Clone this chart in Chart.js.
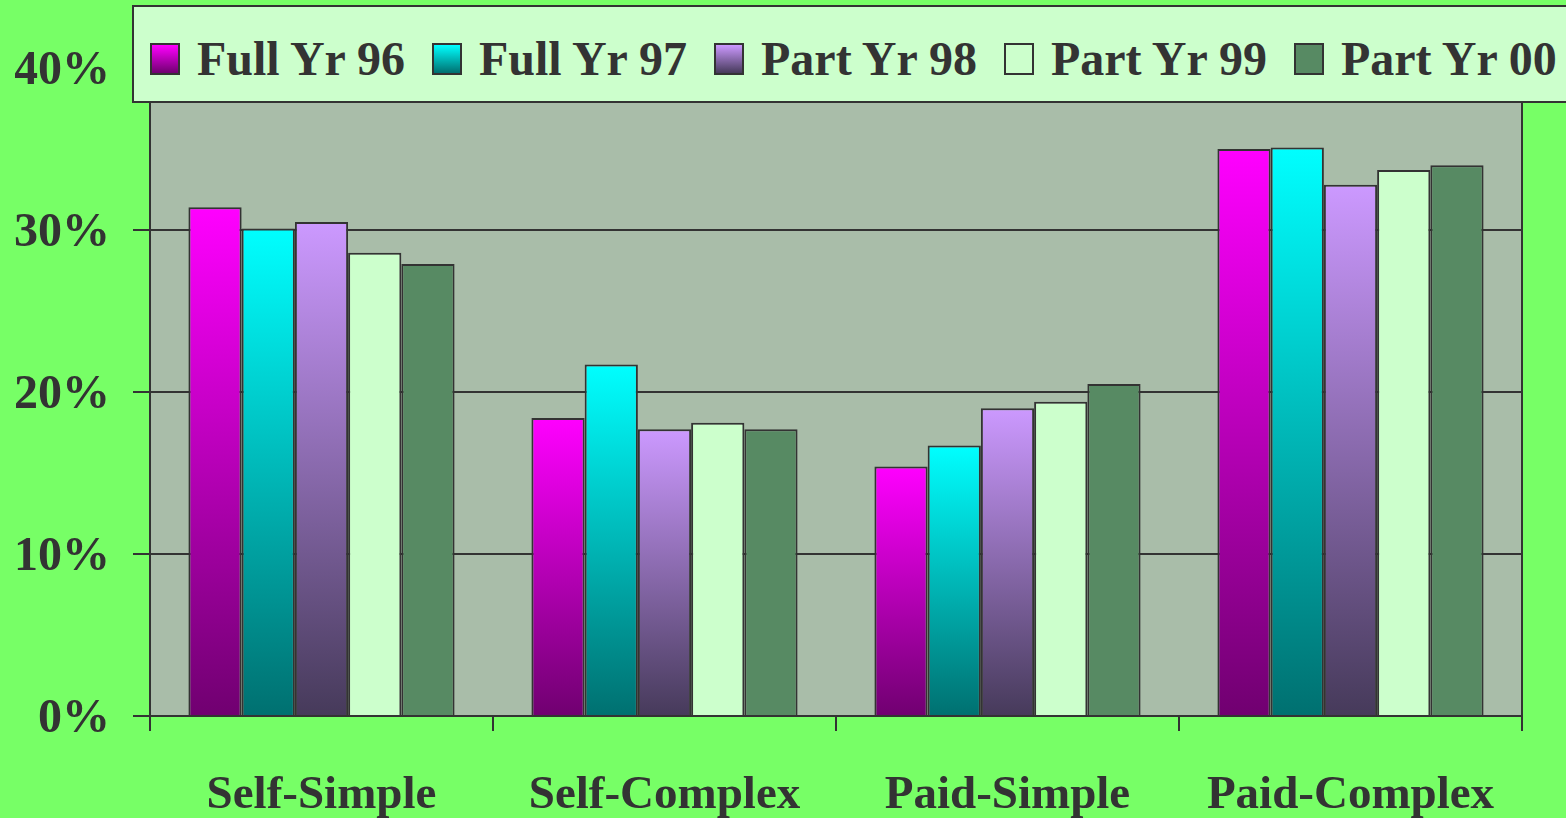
<!DOCTYPE html>
<html>
<head>
<meta charset="utf-8">
<script src="https://cdn.jsdelivr.net/npm/chart.js@4.4.1/dist/chart.umd.min.js"></script>
<style>
  html, body { margin: 0; padding: 0; background: #77FF66; overflow: hidden; }
  #wrap { position: relative; width: 1566px; height: 818px; overflow: hidden; }
  #legend {
    position: absolute; left: 132px; top: 5px; width: 1480px; height: 94px;
    background: #CCFFCC; border: 2px solid #333; border-right: none;
    display: flex; align-items: center; padding-left: 16px;
  }
  .item { display: flex; align-items: center; margin-right: 27px; position: relative; top: 4px;
    font: bold 48px "Liberation Serif", "Times New Roman", serif; color: #333; white-space: nowrap; }
  .swatch { width: 26px; height: 28px; border: 2px solid #333; margin-right: 17px; margin-top: 2px; }
</style>
</head>
<body>
<div id="wrap">
  <canvas id="chart" width="1566" height="818"></canvas>
  <div id="legend"></div>
</div>
<script>
'use strict';

const categories = ['Self-Simple', 'Self-Complex', 'Paid-Simple', 'Paid-Complex'];
const seriesNames = ['Full Yr 96', 'Full Yr 97', 'Part Yr 98', 'Part Yr 99', 'Part Yr 00'];
const fullYr96 = [31.4, 18.4, 15.4, 35.0];
const fullYr97 = [30.1, 21.7, 16.7, 35.1];
const partYr98 = [30.5, 17.7, 19.0, 32.8];
const partYr99 = [28.6, 18.1, 19.4, 33.7];
const partYr00 = [27.9, 17.7, 20.5, 34.0];
const yTicks = [0, 10, 20, 30, 40];

// top / bottom colours of each series (solid when equal)
const topColors = ['#FF00FF', '#00FFFF', '#CC99FF', '#CCFFCC', '#578A63'];
const bottomColors = ['#700070', '#007070', '#463A5A', '#CCFFCC', '#578A63'];

let canvasElem = document.getElementById('chart');
const serif = '"Liberation Serif", "Times New Roman", serif';

function barFill(top, bottom) {
  return function (ctx) {
    const chart = ctx.chart;
    const y = chart.scales.y;
    if (top === bottom || !y || ctx.raw == null) return top;
    const y0 = y.getPixelForValue(ctx.raw);
    const y1 = y.getPixelForValue(0);
    if (!isFinite(y0) || !isFinite(y1) || y0 === y1) return top;
    const g = chart.ctx.createLinearGradient(0, y0, 0, y1);
    g.addColorStop(0, top);
    g.addColorStop(1, bottom);
    return g;
  };
}

const plotBackground = {
  id: 'plotBackground',
  beforeDraw(chart) {
    const { ctx, chartArea } = chart;
    ctx.save();
    ctx.fillStyle = '#A9BDA9';
    ctx.fillRect(chartArea.left, chartArea.top, chartArea.right - chartArea.left, chartArea.bottom - chartArea.top);
    ctx.strokeStyle = '#333';
    ctx.lineWidth = 2;
    ctx.beginPath();
    ctx.moveTo(chartArea.right, chartArea.top);
    ctx.lineTo(chartArea.right, chartArea.bottom);
    ctx.stroke();
    ctx.restore();
  }
};

const seriesValues = [fullYr96, fullYr97, partYr98, partYr99, partYr00];

const data = {
  labels: categories,
  datasets: seriesNames.map((name, i) => ({
    label: name,
    data: seriesValues[i],
    backgroundColor: barFill(topColors[i], bottomColors[i]),
    borderColor: '#333',
    borderWidth: 2,
    barPercentage: 1,
    categoryPercentage: 0.776
  }))
};

const config = {
  type: 'bar',
  data: data,
  options: {
    responsive: false,
    animation: false,
    layout: { padding: { left: 15, right: 44, top: 68, bottom: 0 } },
    plugins: { legend: { display: false }, tooltip: { enabled: false } },
    scales: {
      x: {
        grid: { display: true, drawOnChartArea: false, drawTicks: true, tickLength: 15, color: '#333', lineWidth: 2, offset: true },
        border: { display: true, color: '#333', width: 2 },
        ticks: { font: { family: serif, size: 47, weight: 'bold' }, color: '#333', padding: 37, maxRotation: 0 },
        afterFit: s => { s.height = 102; }
      },
      y: {
        min: yTicks[0],
        max: yTicks[yTicks.length - 1],
        afterBuildTicks: s => { s.ticks = yTicks.map(v => ({ value: v })); },
        grid: { color: '#333', lineWidth: 2, tickLength: 17 },
        border: { display: true, color: '#333', width: 2 },
        ticks: { font: { family: serif, size: 48, weight: 'bold' }, color: '#333', padding: 23, labelOffset: 4, callback: v => v + '%' },
        afterFit: s => { s.width = 135; }
      }
    }
  },
  plugins: [plotBackground]
};

const chart = new Chart(canvasElem, config);

// legend built from the datasets
const legendElem = document.getElementById('legend');
chart.data.datasets.forEach((ds, i) => {
  const item = document.createElement('div');
  item.className = 'item';
  const sw = document.createElement('span');
  sw.className = 'swatch';
  sw.style.background = 'linear-gradient(' + topColors[i] + ', ' + bottomColors[i] + ')';
  item.appendChild(sw);
  item.appendChild(document.createTextNode(ds.label));
  legendElem.appendChild(item);
});
</script>
</body>
</html>
